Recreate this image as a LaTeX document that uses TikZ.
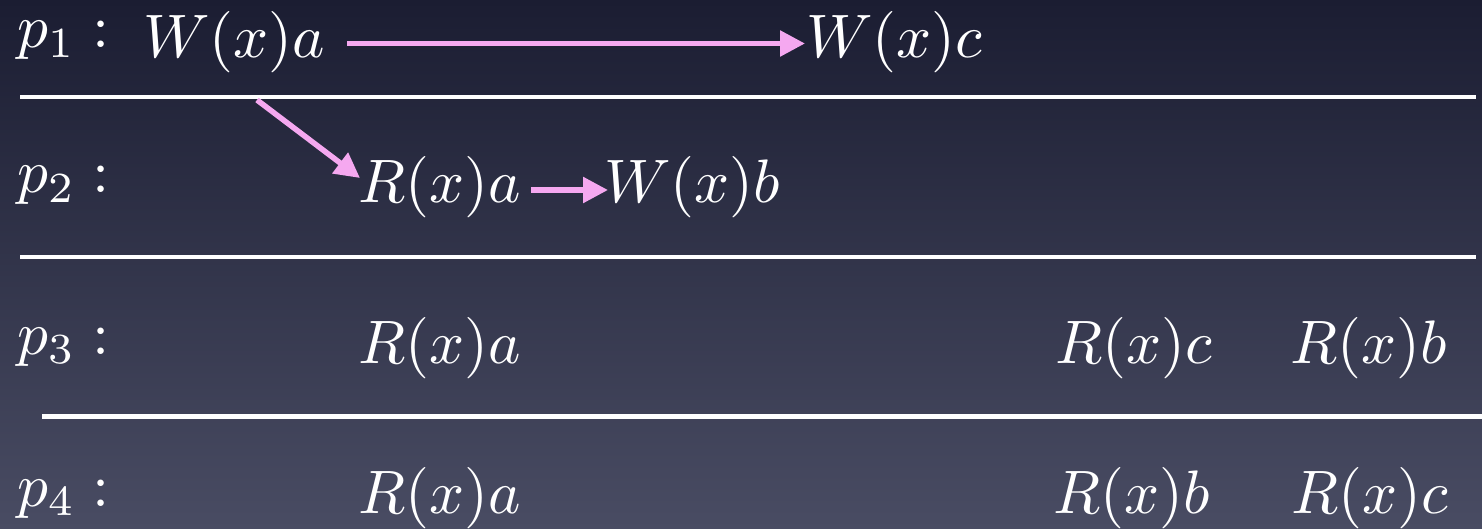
\documentclass[tikz,border=0pt]{standalone}
\usetikzlibrary{arrows.meta}
\definecolor{bgtop}{RGB}{27,29,50}
\definecolor{bgbot}{RGB}{73,76,99}
\definecolor{pinkarr}{RGB}{245,168,240}
\newcommand{\slidemath}[1]{\scalebox{6.14}{$#1$}}
\begin{document}
\begin{tikzpicture}[x=1pt,y=-1pt,
  lbl/.style={anchor=base west,inner sep=0pt,text=white},
  sep/.style={white,line width=4.5pt},
  parr/.style={pinkarr,line width=5.5pt,-{Triangle[length=25pt,width=25pt]}}]
\shade[top color=bgtop,bottom color=bgbot] (0,0) rectangle (1482,529);
\useasboundingbox (0,0) rectangle (1482,529);
% row 1
\node[lbl] (p1) at (17,48) {\slidemath{p_1:}};
\node[lbl] (w1) at (143,58) {\slidemath{W(x)a}};
\node[lbl] (w2) at (806,58) {\slidemath{W(x)c}};
% row 2
\node[lbl] (p2) at (17,193) {\slidemath{p_2:}};
\node[lbl] (r21) at (358,203) {\slidemath{R(x)a}};
\node[lbl] (w3) at (604,203) {\slidemath{W(x)b}};
% row 3
\node[lbl] (p3) at (17,354) {\slidemath{p_3:}};
\node[lbl] (r31) at (358,363) {\slidemath{R(x)a}};
\node[lbl] (r32) at (1055,363) {\slidemath{R(x)c}};
\node[lbl] (r33) at (1290,363) {\slidemath{R(x)b}};
% row 4
\node[lbl] (p4) at (17,506) {\slidemath{p_4:}};
\node[lbl] (r41) at (358,513) {\slidemath{R(x)a}};
\node[lbl] (r42) at (1053,513) {\slidemath{R(x)b}};
\node[lbl] (r43) at (1291,513) {\slidemath{R(x)c}};
% separators
\coordinate (s1a) at (20,97); \coordinate (s1b) at (1476,97);
\coordinate (s2a) at (20,257); \coordinate (s2b) at (1476,257);
\coordinate (s3a) at (42,416.5); \coordinate (s3b) at (1482,416.5);
\draw[sep] (s1a) -- (s1b);
\draw[sep] (s2a) -- (s2b);
\draw[sep] (s3a) -- (s3b);
% arrows
\coordinate (d1) at (257,100);
\coordinate (d2) at (360,178);
\draw[parr] ([xshift=22pt]w1.east|-0,43.5) -- ([xshift=-1pt]w2.west|-0,43.5);
\draw[parr] (d1) -- (d2);
\draw[parr] ([xshift=10pt]r21.east|-0,190) -- ([xshift=4pt]w3.west|-0,190);
\end{tikzpicture}
\end{document}
